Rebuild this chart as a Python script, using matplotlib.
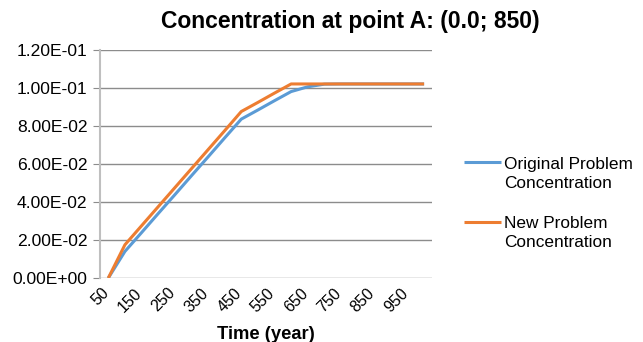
import matplotlib
matplotlib.use("Agg")
import matplotlib.pyplot as plt
from matplotlib.ticker import FormatStrFormatter
from matplotlib.legend_handler import HandlerLine2D
from matplotlib.transforms import ScaledTranslation

plt.rcParams["font.family"] = ["Liberation Sans", "DejaVu Sans"]

# data
years = [50, 100, 150, 200, 250, 300, 350, 400, 450, 500,
         550, 600, 650, 700, 750, 800, 850, 900, 950, 1000]
original = [0.0, 0.0140, 0.0239, 0.0339, 0.0438, 0.0538, 0.0637, 0.0737, 0.0836, 0.0884,
            0.0933, 0.0981, 0.1006, 0.1020, 0.1021, 0.1021, 0.1021, 0.1021, 0.1021, 0.1021]
new = [0.0, 0.0175, 0.0275, 0.0375, 0.0475, 0.0575, 0.0675, 0.0775, 0.0876, 0.0924,
       0.0973, 0.1021, 0.1021, 0.1021, 0.1021, 0.1021, 0.1021, 0.1021, 0.1021, 0.1021]
series_names = ["Original Problem\nConcentration", "New Problem\nConcentration"]
colors = ["#5B9BD5", "#ED7D31"]


class TopLineHandler(HandlerLine2D):
    # put the legend line next to the first text line, like Excel does
    def create_artists(self, legend, orig_handle, xdescent, ydescent,
                       width, height, fontsize, trans):
        artists = super().create_artists(legend, orig_handle, xdescent, ydescent,
                                         width, height, fontsize, trans)
        for a in artists:
            a.set_ydata([y + 0.66 * fontsize for y in a.get_ydata()])
        return artists


fig = plt.figure(figsize=(6.43, 3.42), dpi=100)
ax = fig.add_axes([0.1555, 0.187, 0.517, 0.667])

x = list(range(len(years)))
for ys, name, c in zip([original, new], series_names, colors):
    ax.plot(x, ys, color=c, lw=2.2, label=name, solid_capstyle="butt")

ax.set_xlim(-0.5, len(years) - 0.5)
ax.set_ylim(0, 0.12)
ax.set_yticks([0.0, 0.02, 0.04, 0.06, 0.08, 0.10, 0.12])
ax.yaxis.set_major_formatter(FormatStrFormatter("%.2E"))
ax.grid(axis="y", color="#8C8C8C", lw=1)
ax.set_axisbelow(True)

ax.set_xticks(x[::2])
ax.set_xticklabels([str(y) for y in years[::2]], rotation=45, ha="right",
                   va="center", rotation_mode="anchor", fontsize=11.5)
ax.tick_params(axis="x", length=0, pad=9)
ax.tick_params(axis="y", length=5, color="#8C8C8C", labelsize=12.6, pad=4)
shift = ScaledTranslation(-2 / 100, 0, fig.dpi_scale_trans)
for lbl in ax.get_xticklabels():
    lbl.set_transform(lbl.get_transform() + shift)

for s in ["top", "right", "bottom"]:
    ax.spines[s].set_visible(False)
ax.spines["left"].set_color("#BFBFBF")
ax.spines["left"].set_linewidth(1.5)

ax.set_xlabel("Time (year)", fontsize=13.2, fontweight="bold", labelpad=8)
fig.text(0.545, 0.936, "Concentration at point A: (0.0; 850)", fontsize=16.5,
         fontweight="bold", ha="center", va="center")

leg = fig.legend(loc="center left", bbox_to_anchor=(0.697, 0.405), frameon=False,
                 fontsize=12.4, handlelength=2.15, handletextpad=0.2, labelspacing=1.5,
                 handler_map={plt.Line2D: TopLineHandler()})
for t in leg.get_texts():
    t.set_linespacing(1.3)

fig.savefig("out.png", dpi=100)
